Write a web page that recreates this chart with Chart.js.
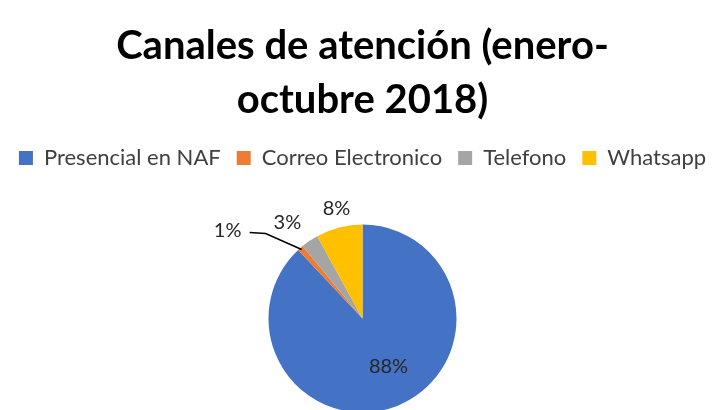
<!DOCTYPE html>
<html>
<head>
<meta charset="utf-8">
<script src="https://cdn.jsdelivr.net/npm/chart.js@4"></script>
<style>
  html, body { margin: 0; padding: 0; background: #fff; overflow: hidden; }
  #wrap { width: 725px; height: 460px; }
</style>
</head>
<body>
<div id="wrap"><canvas id="chartPie"></canvas></div>
<script>
// Canales de atención - pie
var channelLabels = ['Presencial en NAF', 'Correo Electronico', 'Telefono', 'Whatsapp'];
var channelShare = [88, 1, 3, 8];
var channelColors = ['#4472C4', '#ED7D31', '#A5A5A5', '#FFC000'];
var chartTitle = ['Canales de atención (enero-', 'octubre 2018)'];

// labels: outside for small slices, inside for the big one
var pieLabels = {
    id: 'pieLabels',
    afterDatasetsDraw: function (chart) {
        var ctx = chart.ctx;
        var meta = chart.getDatasetMeta(0);
        ctx.save();
        ctx.font = '20px Lato, sans-serif';
        ctx.fillStyle = '#262626';
        ctx.textAlign = 'center';
        ctx.textBaseline = 'middle';
        meta.data.forEach(function (arc, i) {
            var txt = channelShare[i] + '%';
            var mid = (arc.startAngle + arc.endAngle) / 2;
            var r = arc.outerRadius;
            if (i === 0) {
                ctx.fillText(txt, arc.x + 26, arc.y + 48);
                return;
            }
            var dist = [0, 161, 122, 113][i];
            var ang = [0, -146.9, -128, -103.3][i] * Math.PI / 180;
            var lx = arc.x + Math.cos(ang) * dist;
            var ly = arc.y + Math.sin(ang) * dist;
            ctx.fillText(txt, lx, ly);
            if (i === 1) {
                ctx.beginPath();
                ctx.strokeStyle = '#000';
                ctx.lineWidth = 1.5;
                ctx.moveTo(lx + 22, ly + 2);
                ctx.lineTo(lx + 38, ly + 3);
                ctx.lineTo(arc.x + Math.cos(mid) * (r - 2), arc.y + Math.sin(mid) * (r - 2));
                ctx.stroke();
            }
        });
        ctx.restore();
    }
};

new Chart(document.getElementById('chartPie'), {
    type: 'pie',
    data: {
        labels: channelLabels,
        datasets: [{
            data: channelShare,
            backgroundColor: channelColors,
            borderWidth: 0,
            radius: 94
        }]
    },
    options: {
        responsive: true,
        maintainAspectRatio: false,
        animation: false,
        layout: { padding: { top: 0, bottom: 2, left: 0, right: 0 } },
        plugins: {
            title: {
                display: true,
                text: chartTitle,
                color: '#000',
                font: { family: 'Lato, sans-serif', size: 40, weight: 'bold', lineHeight: 1.35 },
                padding: { top: 19, bottom: 4 }
            },
            legend: {
                position: 'top',
                labels: {
                    color: '#404040',
                    font: { family: 'Lato, sans-serif', size: 22 },
                    boxWidth: 14,
                    boxHeight: 14,
                    padding: 16
                }
            },
            tooltip: { enabled: false }
        }
    },
    plugins: [pieLabels]
});
</script>
</body>
</html>
